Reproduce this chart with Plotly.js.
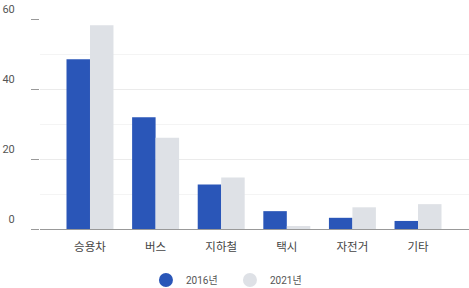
<!DOCTYPE html>
<html>
<head>
<meta charset="utf-8">
<script src="https://cdn.plot.ly/plotly-3.0.1.min.js"></script>
<style>html,body{margin:0;padding:0;background:#fff;}#chart{width:469px;height:288px;}</style>
</head>
<body>
<div id="chart"></div>
<script>
var categories = ['승용차', '버스', '지하철', '택시', '자전거', '기타'];
var values2016 = [48.5, 31.9, 12.7, 5.1, 3.2, 2.3];
var values2021 = [58.2, 26.1, 14.7, 0.85, 6.2, 7.1];
var seriesNames = ['2016년', '2021년'];
var colors = ['#2a56b8', '#dee1e6'];
var yTicks = [0, 20, 40, 60];

var font = 'Roboto, "Noto Sans CJK KR", sans-serif';
var idx = categories.map(function(_, i){ return i; });

var traces = [
  {type:'bar', x: idx, y: values2016, name: seriesNames[0], marker:{color: colors[0]}, showlegend:false, hoverinfo:'none'},
  {type:'bar', x: idx, y: values2021, name: seriesNames[1], marker:{color: colors[1]}, showlegend:false, hoverinfo:'none'},
  {type:'scatter', mode:'markers', x:[null], y:[null], name: seriesNames[0], marker:{color: colors[0], size:14, symbol:'circle'}},
  {type:'scatter', mode:'markers', x:[null], y:[null], name: seriesNames[1], marker:{color: colors[1], size:14, symbol:'circle'}}
];

var layout = {
  width: 469, height: 288,
  margin: {l: 40, r: 0, t: 19, b: 59, autoexpand: false},
  paper_bgcolor: '#fff', plot_bgcolor: '#fff',
  barmode: 'group', bargap: 0.284, bargroupgap: 0,
  font: {family: font, color: '#444', size: 11},
  xaxis: {
    range: [-0.762, 5.777],
    tickvals: idx, ticktext: categories,
    showgrid: false, zeroline: false,
    showline: true, linecolor: '#999', linewidth: 1,
    ticks: '', tickfont: {size: 11.5, color: '#444'},
    ticklabelstandoff: 7, automargin: false,
    fixedrange: true
  },
  yaxis: {
    range: [0, 60],
    tickvals: yTicks,
    ticks: 'outside', ticklen: 8, tickcolor: '#999', tickwidth: 1,
    ticklabelposition: 'outside', ticklabelstandoff: 14, ticklabelshift: -10,
    showgrid: true, gridcolor: '#ebebeb', gridwidth: 1,
    zeroline: false, showline: false, automargin: false,
    tickfont: {size: 11, color: '#555'},
    minor: {dtick: 10, showgrid: true, gridcolor: '#f4f4f4', gridwidth: 1, ticks: ''},
    fixedrange: true
  },
  legend: {
    orientation: 'h', x: 0.247, xanchor: 'left', y: -0.243, yanchor: 'middle',
    font: {size: 10, color: '#555'}, itemwidth: 30, tracegroupgap: 0,
    entrywidth: 39, entrywidthmode: 'pixels'
  },
  showlegend: true
};

Plotly.newPlot('chart', traces, layout, {displayModeBar: false, staticPlot: true});
</script>
</body>
</html>
